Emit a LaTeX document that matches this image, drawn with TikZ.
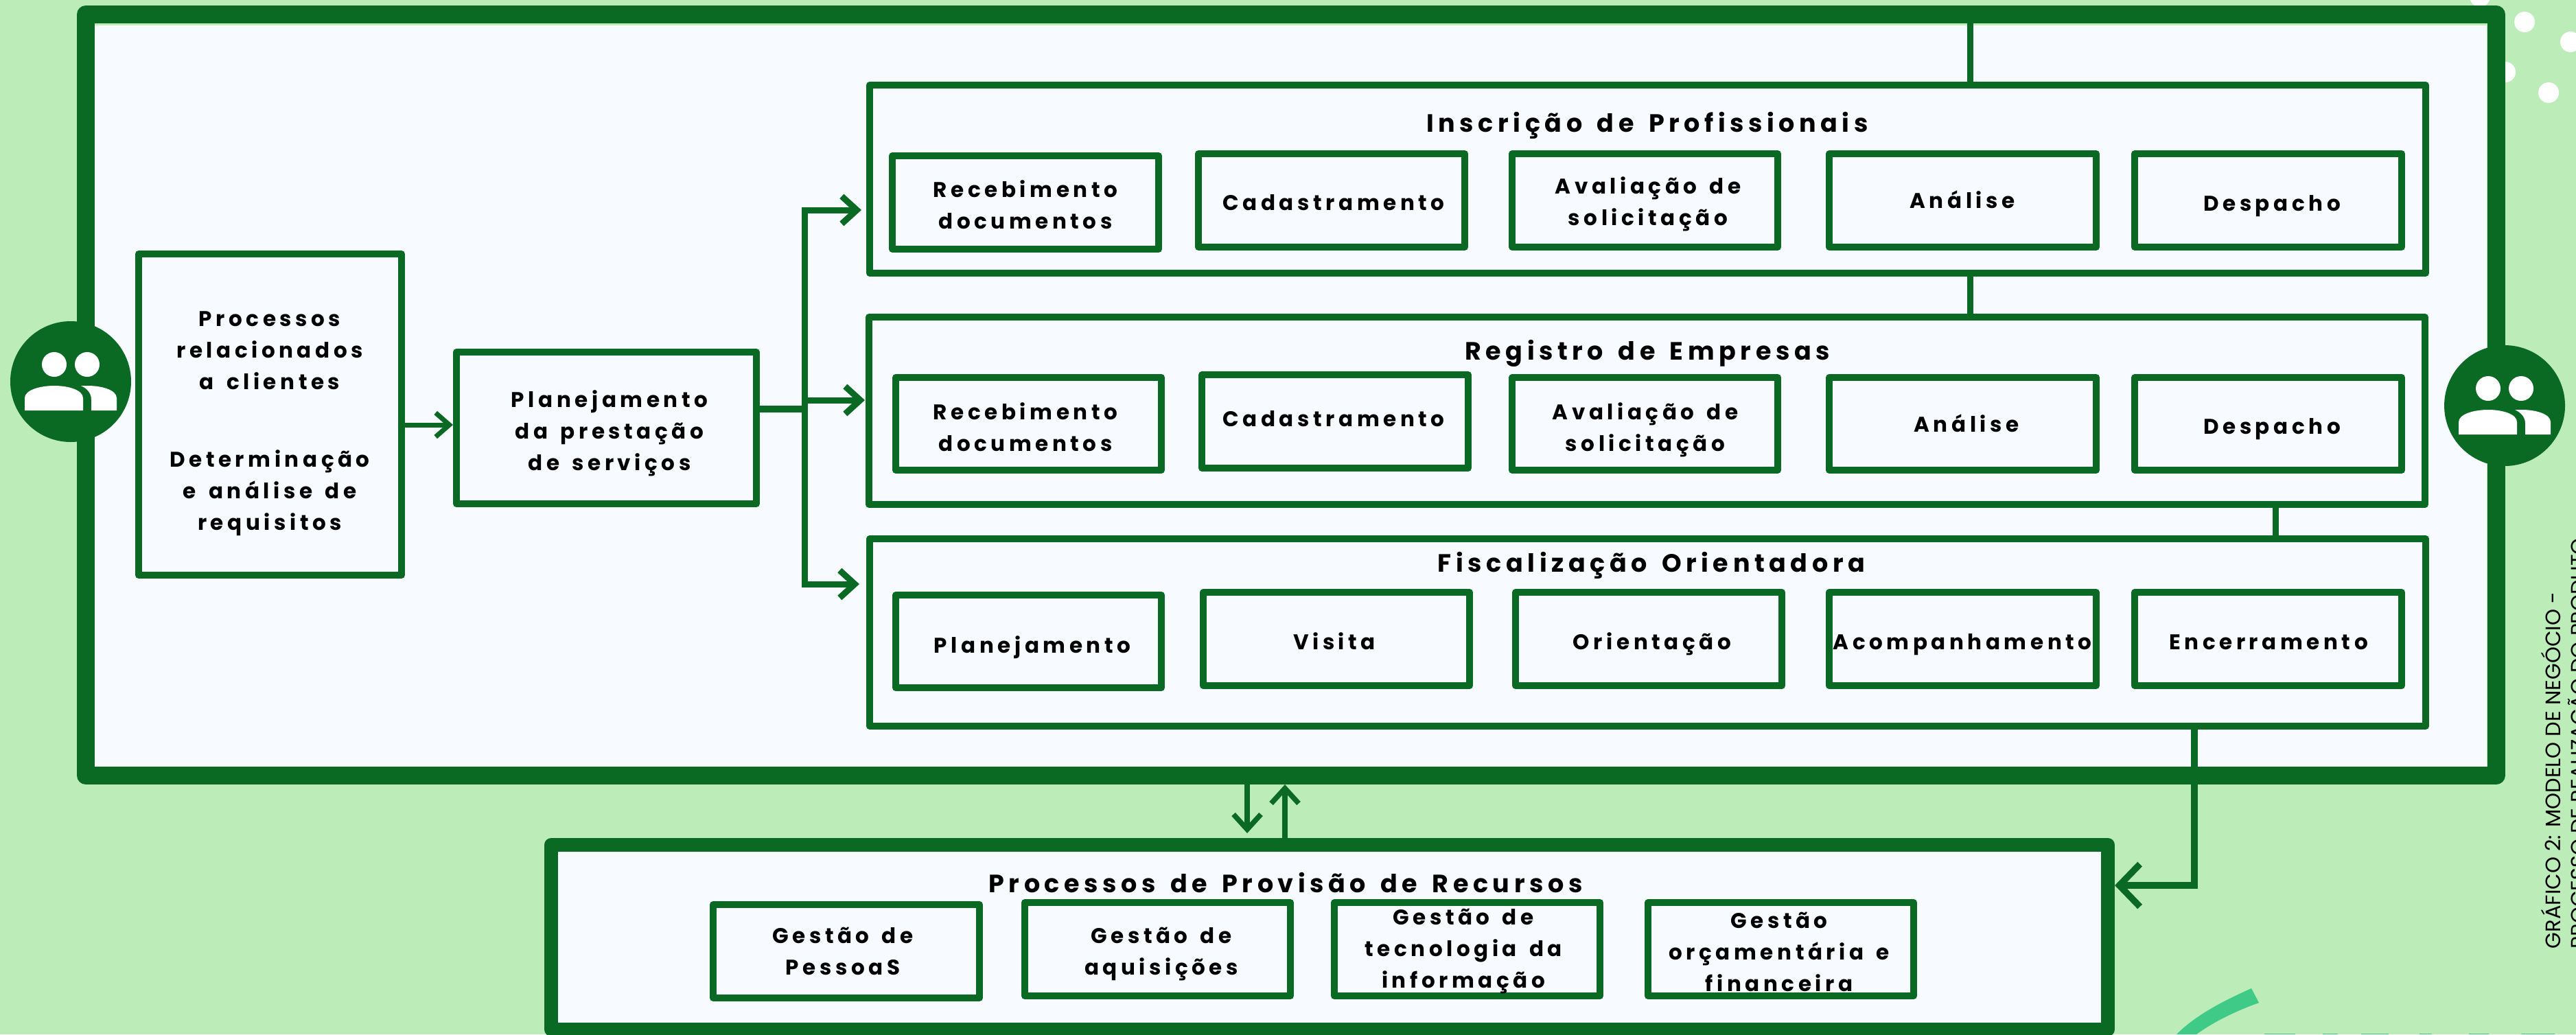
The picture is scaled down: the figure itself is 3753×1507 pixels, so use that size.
\documentclass[tikz,border=0pt]{standalone}
\usepackage{fontspec}
\usetikzlibrary{arrows.meta,calc}
\setmainfont{Poppins}
\newfontfamily\labfont[LetterSpace=18,WordSpace=1.25]{Poppins}
\newfontfamily\titfont[LetterSpace=18,WordSpace=1.5]{Poppins}
\newfontfamily\capfont{Poppins}
\definecolor{bgg}{HTML}{BCECB8}
\definecolor{dkg}{HTML}{0A6A24}
\definecolor{pale}{HTML}{F7FBFF}
\definecolor{teal}{HTML}{3FCB87}
\tikzset{
  framebox/.style={draw=dkg,fill=pale,line width=2pt,line join=round,rectangle,inner sep=0pt,outer sep=0pt},
  lab/.style={font=\labfont\bfseries\fontsize{6.2pt}{9.2pt}\selectfont,text=black,align=center,anchor=base,inner sep=0pt,outer sep=0pt},
  tit/.style={font=\titfont\bfseries\fontsize{7.3pt}{9.2pt}\selectfont,text=black,align=center,anchor=base,inner sep=0pt,outer sep=0pt},
  conn/.style={draw=dkg,line width=1.8pt},
  arr/.style={draw=dkg,line width=1.5pt,-{Straight Barb[length=4.4pt,width=8pt]}},
  dot/.style={fill=white},
  figcap/.style={font=\capfont\fontsize{6.1pt}{7pt}\selectfont,text=black,rotate=90,anchor=base west,inner sep=0pt,outer sep=0pt}
}
% name, x1,y1,x2,y2 (outer edges, px), text centre x, last baseline y, text
\newcommand\bxnode[8]{%
  \node[framebox,minimum width={(#4-#2-10)*0.2pt},minimum height={(#5-#3-10)*0.2pt}] (#1) at ({(#2+#4)/2},{(#3+#5)/2}) {};
  \node[lab] (#1t) at (#6,#7) {#8};
}
\newcommand\peoplenode[3]{%
  \node[circle,fill=dkg,minimum size=35.2pt,inner sep=0pt,outer sep=0pt] (#1) at (#2,#3) {};
  \begin{scope}[shift={(#2,#3)}]
    \fill[white] (-24,-25) circle[radius=18];
    \fill[white] (24,-25) circle[radius=18];
    \fill[white] (-67,42) -- (-67,24) .. controls (-67,12) and (-44,6) .. (-24,6) .. controls (-4,6) and (18,12) .. (18,24) -- (18,42) -- cycle;
    \fill[white] (30,42) -- (30,26) .. controls (30,17) and (24,10) .. (15,6) -- (25,6) .. controls (45,6) and (67,12) .. (67,24) -- (67,42) -- cycle;
  \end{scope}
}
\begin{document}
\begin{tikzpicture}[x=0.2pt,y=-0.2pt]
\path[use as bounding box,clip] (0,0) rectangle (3753,1507);
\fill[bgg] (0,0) rectangle (3753,1507);
% dots and arc
\fill[dot] (3613,-5) circle[radius=15];
\fill[dot] (3650,105) circle[radius=15];
\fill[dot] (3678,32) circle[radius=15];
\fill[dot] (3745,61) circle[radius=15];
\fill[dot] (3713,135) circle[radius=15];
\fill[teal] (3280,1440) -- (3291,1461) .. controls (3260,1472) and (3226,1488) .. (3200,1507) -- (3171,1507) .. controls (3200,1478) and (3240,1458) .. (3280,1440) -- cycle;
\foreach \a/\b in {3299/3344,3384/3406,3440/3480,3525/3543,3597/3626,3673/3722}
  \fill[teal] (\a,1505.5) rectangle (\b,1507);
% outer frame
\fill[pale] (138,37) rectangle (3623,1117);
\fill[bgg] (138,34) rectangle (3623,37);
\node[draw=dkg,line width=5.2pt,line join=round,rectangle,inner sep=0pt,outer sep=0pt,minimum width={(3636.5-125)*0.2pt},minimum height={(1130-21)*0.2pt}] (frame) at ({(125+3636.5)/2},{(21+1130)/2}) {};
% connector anchors
\coordinate (cA) at (2870,0);
\coordinate (cB) at (3315,0);
\coordinate (cC) at (3197,0);
\coordinate (cD) at (1817,0);
\coordinate (cE) at (1872,0);
\coordinate (cF) at (1172,0);
\coordinate (yR) at (0,1290);
\coordinate (yP) at (0,596);
% section frames
\node[framebox,minimum width={(3539-1262-10)*0.2pt},minimum height={(403-119-10)*0.2pt}] (s1) at ({(3539+1262)/2},{(403+119)/2}) {};
\node[framebox,minimum width={(3538-1261-10)*0.2pt},minimum height={(740-457-10)*0.2pt}] (s2) at ({(3538+1261)/2},{(740+457)/2}) {};
\node[framebox,minimum width={(3539-1262-10)*0.2pt},minimum height={(1063-780-10)*0.2pt}] (s3) at ({(3539+1262)/2},{(1063+780)/2}) {};
% bottom frame
\node[draw=dkg,fill=pale,line width=4pt,line join=round,rectangle,inner sep=0pt,outer sep=0pt,minimum width={(3071-803)*0.2pt},minimum height={(1500-1231)*0.2pt}] (rec) at ({(3071+803)/2},{(1500+1231)/2}) {};
% connectors
\draw[conn] (cA |- frame.north) -- (cA |- s1.north);
\draw[conn] (cA |- s1.south) -- (cA |- s2.north);
\draw[conn] (cB |- s2.south) -- (cB |- s3.north);
\draw[arr,line width=1.9pt,-{Straight Barb[length=6pt,width=12.4pt]},shorten >=2pt] (cC |- s3.south) -- (cC |- yR) -- (rec.east |- yR);
\draw[arr,shorten >=3.4pt] (cD |- frame.south) -- (cD |- rec.north);
\draw[arr,shorten >=2.6pt] (cE |- rec.north) -- (cE |- frame.south);
% left column
\bxnode{pc}{197}{365}{590}{843}{393}{772}{Processos\\relacionados\\a clientes\\[13.4pt]Determinação\\e análise de\\requisitos}
\bxnode{pl}{660}{508}{1107}{739}{888}{685}{Planejamento\\da prestação\\de serviços}
\draw[arr,line width=1.4pt,-{Straight Barb[length=4pt,width=7pt]},shorten >=1pt] (pc.east |- 0,619) -- (pl.west |- 0,619);
\draw[conn,line width=2pt,line cap=round] (pl.east |- yP) -- (cF |- yP);
\draw[arr,line width=1.8pt,shorten >=2.4pt] (cF |- 0,596) |- (s1.west |- 0,306);
\draw[arr,line width=1.8pt,shorten >=1.2pt] (cF |- 0,583) -- (s2.west |- 0,583);
\draw[arr,line width=1.8pt,shorten >=3pt] (cF |- 0,596) |- (s3.west |- 0,851);
% titles
\node[tit] (t1) at (2400,192) {Inscrição de Profissionais};
\node[tit] (t2) at (2400,524) {Registro de Empresas};
\node[tit] (t3) at (2406,833) {Fiscalização Orientadora};
\node[tit] (t4) at (1873,1300) {Processos de Provisão de Recursos};
% row 1
\bxnode{a1}{1295}{222}{1693}{368}{1494}{333}{Recebimento\\documentos}
\bxnode{a2}{1741}{219}{2139}{365}{1943}{306}{Cadastramento}
\bxnode{a3}{2198}{219}{2595}{365}{2401}{328}{Avaliação de\\solicitação}
\bxnode{a4}{2660}{219}{3059}{365}{2859}{303}{Análise}
\bxnode{a5}{3105}{219}{3504}{365}{3310}{307}{Despacho}
% row 2
\bxnode{b1}{1300}{545}{1697}{690}{1494}{657}{Recebimento\\documentos}
\bxnode{b2}{1746}{541}{2144}{687}{1943}{621}{Cadastramento}
\bxnode{b3}{2198}{545}{2595}{690}{2397}{657}{Avaliação de\\solicitação}
\bxnode{b4}{2660}{545}{3059}{690}{2865}{629}{Análise}
\bxnode{b5}{3105}{545}{3504}{690}{3310}{632}{Despacho}
% row 3
\bxnode{c1}{1300}{862}{1697}{1007}{1504}{951}{Planejamento}
\bxnode{c2}{1748}{858}{2146}{1004}{1944}{946}{Visita}
\bxnode{c3}{2203}{858}{2601}{1004}{2407}{946}{Orientação}
\bxnode{c4}{2660}{858}{3059}{1004}{2859}{946}{Acompanhamento}
\bxnode{c5}{3105}{858}{3504}{1004}{3305}{946}{Encerramento}
% bottom row
\bxnode{d1}{1034}{1313}{1432}{1459}{1228}{1420}{Gestão de\\PessoaS}
\bxnode{d2}{1488}{1310}{1885}{1456}{1692}{1420}{Gestão de\\aquisições}
\bxnode{d3}{1939}{1310}{2336}{1456}{2132}{1439}{Gestão de\\tecnologia da\\informação}
\bxnode{d4}{2396}{1310}{2793}{1456}{2592}{1444}{Gestão\\orçamentária e\\financeira}
% people
\peoplenode{pL}{103}{556}
\peoplenode{pR}{3649}{591}
% caption
\node[figcap] (cap1) at (3730,1382) {GRÁFICO 2: MODELO DE NEGÓCIO -};
\node[figcap] (cap2) at (3767,1382) {PROCESSO DE REALIZAÇÃO DO PRODUTO};
\end{tikzpicture}
\end{document}
